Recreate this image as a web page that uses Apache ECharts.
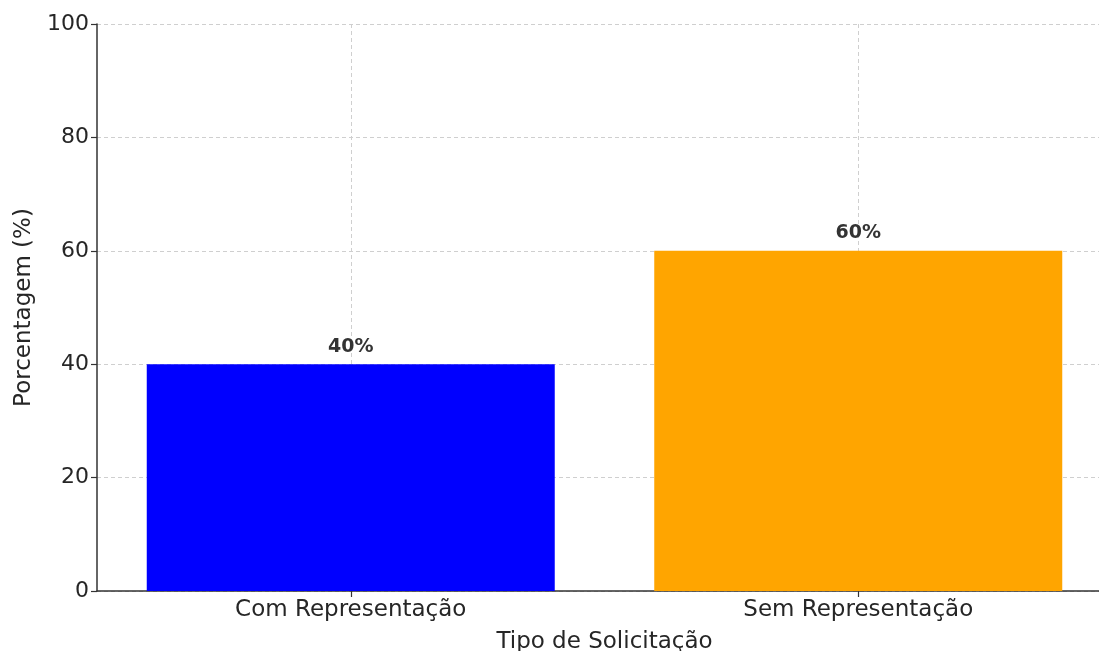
<!DOCTYPE html>
<html>
<head>
<meta charset="utf-8">
<script src="https://cdn.jsdelivr.net/npm/echarts@6/dist/echarts.min.js"></script>
<style>
html,body{margin:0;padding:0;background:#fff;overflow:hidden;}
#chart{width:1099px;height:651px;}
</style>
</head>
<body>
<div id="chart"></div>
<script>
const categories = ['Com Representação', 'Sem Representação'];
const percentages = [40, 60];
const barColors = ['#0000FF', '#FFA500'];
const yTicks = [0, 20, 40, 60, 80, 100];
const xAxisTitle = 'Tipo de Solicitação';
const yAxisTitle = 'Porcentagem (%)';

const chart = echarts.init(document.getElementById('chart'), null, {renderer: 'canvas'});
const font = 'DejaVu Sans';
chart.setOption({
  animation: false,
  backgroundColor: '#ffffff',
  grid: {left: 97, right: -13, top: 24, bottom: 60, containLabel: false, outerBoundsMode: 'none'},
  xAxis: {
    type: 'category',
    data: categories,
    name: xAxisTitle,
    nameLocation: 'middle',
    nameGap: 40,
    nameTextStyle: {fontFamily: font, fontSize: 23, color: '#262626'},
    axisLine: {show: true, lineStyle: {color: '#333333', width: 1.5}},
    axisTick: {show: true, alignWithLabel: true, length: 6, lineStyle: {color: '#333333', width: 1.2}},
    axisLabel: {fontFamily: font, fontSize: 23, color: '#262626', margin: 8},
    splitLine: {show: true, alignWithLabel: true, lineStyle: {color: '#cfcfcf', type: [4, 3], width: 1}}
  },
  yAxis: {
    type: 'value',
    min: yTicks[0],
    max: yTicks[yTicks.length - 1],
    interval: yTicks[1] - yTicks[0],
    name: yAxisTitle,
    nameLocation: 'middle',
    nameGap: 61,
    nameTextStyle: {fontFamily: font, fontSize: 23, color: '#262626'},
    axisLine: {show: true, lineStyle: {color: '#333333', width: 1.5}},
    axisTick: {show: true, length: 6, lineStyle: {color: '#333333', width: 1.2}},
    axisLabel: {fontFamily: font, fontSize: 22, color: '#262626', margin: 8},
    splitLine: {show: true, lineStyle: {color: '#cfcfcf', type: [4, 3], width: 1}}
  },
  series: [{
    type: 'bar',
    barWidth: 408,
    data: percentages.map((v, i) => ({value: v, itemStyle: {color: barColors[i]}})),
    label: {
      show: true,
      position: 'top',
      distance: 8,
      formatter: p => p.value + '%',
      fontFamily: font,
      fontSize: 19,
      fontWeight: 'bold',
      color: '#333333'
    },
    z: 1
  }]
});
</script>
</body>
</html>
